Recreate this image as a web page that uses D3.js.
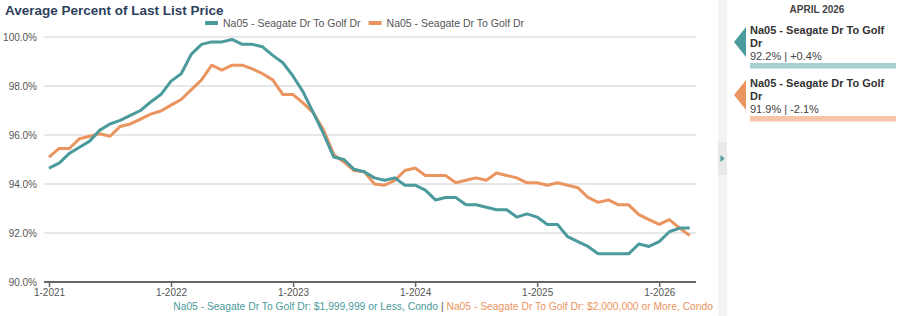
<!DOCTYPE html>
<html>
<head>
<meta charset="utf-8">
<script src="https://cdn.jsdelivr.net/npm/d3@7"></script>
<style>
  body { margin: 0; background: #fff; }
  svg { font-family: Arial, "Liberation Sans", sans-serif; }
</style>
</head>
<body>
<div class="vis-chart"></div>
<script>
// monthly values, Jan 2021 .. Apr 2026
const startYear = 2021;
const seriesNames = ["Na05 - Seagate Dr To Golf Dr", "Na05 - Seagate Dr To Golf Dr"];
const seriesLongNames = [
    "Na05 - Seagate Dr To Golf Dr: $1,999,999 or Less, Condo",
    "Na05 - Seagate Dr To Golf Dr: $2,000,000 or More, Condo"
];
const lowValues = [
    94.65, 94.85, 95.25, 95.5, 95.75, 96.2, 96.45, 96.6, 96.8, 97.0, 97.35, 97.65,
    98.2, 98.5, 99.3, 99.7, 99.8, 99.8, 99.9, 99.7, 99.7, 99.6, 99.25, 98.95,
    98.4, 97.75, 96.9, 96.05, 95.1, 95.0, 94.6, 94.5, 94.25, 94.15, 94.25, 93.95,
    93.95, 93.75, 93.35, 93.45, 93.45, 93.15, 93.15, 93.05, 92.95, 92.95, 92.65, 92.78,
    92.65, 92.35, 92.35, 91.85, 91.65, 91.45, 91.15, 91.15, 91.15, 91.15, 91.55, 91.45,
    91.65, 92.05, 92.2, 92.2
];
const highValues = [
    95.1, 95.45, 95.45, 95.85, 95.95, 96.05, 95.95, 96.35, 96.45, 96.65, 96.85, 96.98,
    97.22, 97.45, 97.85, 98.25, 98.85, 98.65, 98.85, 98.85, 98.7, 98.5, 98.25, 97.65,
    97.65, 97.3, 96.9, 96.2, 95.2, 94.9, 94.55, 94.5, 94.0, 93.95, 94.15, 94.55,
    94.65, 94.35, 94.35, 94.35, 94.05, 94.15, 94.25, 94.15, 94.45, 94.35, 94.25, 94.05,
    94.05, 93.95, 94.05, 93.95, 93.85, 93.45, 93.25, 93.35, 93.15, 93.15, 92.75, 92.55,
    92.35, 92.55, 92.2, 91.9
];
const yTicks = [90, 92, 94, 96, 98, 100];
const xTickMonths = [0, 12, 24, 36, 48, 60];
const panelTitle = "APRIL 2026";
const panelValues = ["92.2% | +0.4%", "91.9% | -2.1%"];

const colors = ["#4b9a9c", "#ea9460"];
const barColors = ["#a6d0d1", "#f6c5a7"];

const W = 900, H = 316;
const svg = d3.select(".vis-chart").append("svg")
    .attr("width", W).attr("height", H);

const x = d3.scaleLinear().domain([0, lowValues.length - 1]).range([49, 689.7]);
const y = d3.scaleLinear().domain([90, 100]).range([282, 37]);
const gridLeft = 44, gridRight = 696;

// Title
svg.append("text")
    .attr("x", 5).attr("y", 15)
    .attr("font-size", 13.5).attr("font-weight", "bold")
    .attr("fill", "#2e3f5c")
    .text("Average Percent of Last List Price");

// Gridlines
svg.append("g").selectAll("line")
    .data(yTicks.filter(d => d > 90))
    .join("line")
    .attr("x1", gridLeft).attr("x2", gridRight)
    .attr("y1", d => y(d)).attr("y2", d => y(d))
    .attr("stroke", "#cfcfcf").attr("stroke-width", 1.2);

// Y labels
svg.append("g").selectAll("text")
    .data(yTicks)
    .join("text")
    .attr("x", 37).attr("y", d => y(d) + 4)
    .attr("text-anchor", "end")
    .attr("font-size", 10).attr("fill", "#555")
    .text(d => d.toFixed(1) + "%");

// X axis
const xAxis = svg.append("g")
    .attr("transform", `translate(0,${y(90)})`)
    .call(d3.axisBottom(x).tickValues(xTickMonths)
        .tickSize(5).tickSizeOuter(0)
        .tickFormat(d => "1-" + (startYear + d / 12)));
xAxis.select(".domain").remove();
xAxis.insert("line", ":first-child")
    .attr("x1", gridLeft).attr("x2", gridRight)
    .attr("stroke", "#666").attr("stroke-width", 2);
xAxis.selectAll(".tick line").attr("stroke", "#666").attr("stroke-width", 1.5);
xAxis.selectAll(".tick text")
    .attr("font-size", 10).attr("fill", "#555")
    .attr("font-family", "Arial, 'Liberation Sans', sans-serif")
    .attr("y", 7)
    .attr("dy", "0.71em");

// Lines
const line = d3.line()
    .x((d, i) => x(i))
    .y(d => y(d));
[highValues, lowValues].forEach((vals, k) => {
    svg.append("path")
        .datum(vals)
        .attr("fill", "none")
        .attr("stroke", colors[1 - k])
        .attr("stroke-width", 3)
        .attr("stroke-linejoin", "round")
        .attr("d", line);
});

// Top legend
const legend = svg.append("g").attr("transform", "translate(205,23)");
let lx = 0;
seriesNames.forEach((name, i) => {
    const g = legend.append("g").attr("transform", `translate(${lx},0)`);
    g.append("rect").attr("x", 0).attr("y", -2).attr("width", 13).attr("height", 4)
        .attr("fill", colors[i]);
    const t = g.append("text").attr("x", 18).attr("y", 4)
        .attr("font-size", 10.5).attr("fill", "#555").text(name);
    lx += 18 + t.node().getComputedTextLength() + 8;
});

// Bottom legend
const bottom = svg.append("text")
    .attr("x", 713).attr("y", 310)
    .attr("text-anchor", "end").attr("font-size", 10.3);
bottom.append("tspan").attr("fill", colors[0]).text(seriesLongNames[0]);
bottom.append("tspan").attr("fill", "#555").text(" | ");
bottom.append("tspan").attr("fill", colors[1]).text(seriesLongNames[1]);

// Right panel divider
svg.append("rect").attr("x", 718).attr("y", 0).attr("width", 9).attr("height", H)
    .attr("fill", "#f4f4f4");
svg.append("rect").attr("x", 718).attr("y", 142).attr("width", 9).attr("height", 33)
    .attr("fill", "#e9e9e9");
svg.append("path").attr("d", "M720.5,155 L724.5,158.5 L720.5,162 Z").attr("fill", colors[0]);

// Right panel
svg.append("text")
    .attr("x", 817).attr("y", 13)
    .attr("text-anchor", "middle")
    .attr("font-size", 10).attr("font-weight", "bold").attr("fill", "#444")
    .text(panelTitle);

panelValues.forEach((val, i) => {
    const top = 27 + i * 53;
    const g = svg.append("g").attr("transform", `translate(0,${top})`);
    g.append("path")
        .attr("d", "M734,15 L746,0 L746,30 Z")
        .attr("fill", colors[i]);
    g.append("text").attr("x", 750).attr("y", 7)
        .attr("font-size", 11).attr("font-weight", "bold").attr("fill", "#333")
        .text("Na05 - Seagate Dr To Golf");
    g.append("text").attr("x", 750).attr("y", 20)
        .attr("font-size", 11).attr("font-weight", "bold").attr("fill", "#333")
        .text("Dr");
    g.append("text").attr("x", 750).attr("y", 33)
        .attr("font-size", 11).attr("fill", "#444")
        .text(val);
    g.append("rect").attr("x", 750).attr("y", 36).attr("width", 146).attr("height", 5.5)
        .attr("fill", barColors[i]);
});
</script>
</body>
</html>
